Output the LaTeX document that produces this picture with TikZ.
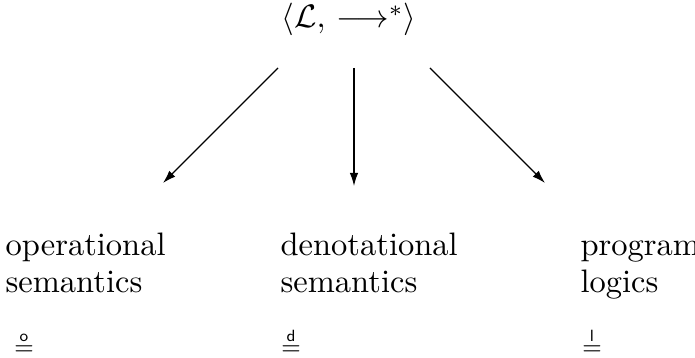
\documentclass[tikz,border=0pt]{standalone}
\usepackage{amsmath, amssymb}
\usetikzlibrary{arrows.meta}
\begin{document}
\begin{tikzpicture}[x=0.3077pt, y=-0.3077pt,
    every node/.style={inner sep=0pt},
    area/.style={anchor=base west, align=left, font=\fontsize{10}{11.4}\selectfont},
    eqsign/.style={anchor=base, font=\scriptsize},
    arr/.style={-{Latex[length=4pt, width=2.6pt]}, line width=0.4pt}]
    \useasboundingbox (0,0) rectangle (695,358);
    \node[anchor=base] (lts) at (349,28) {$\langle\mathcal{L},\,\longrightarrow^*\rangle$};
    \node[area] (ops) at (5,293) {operational\\semantics};
    \node[area] (den) at (280,293) {denotational\\semantics};
    \node[area] (prog) at (580,293) {program\\logics};
    \node[eqsign] (eqo) at (24,355) {$\stackrel{\mathsf{o}}{=}$};
    \node[eqsign] (eqd) at (291,355) {$\stackrel{\mathsf{d}}{=}$};
    \node[eqsign] (eql) at (592,355) {$\stackrel{\mathsf{l}}{=}$};
    % arrows
    \coordinate (s1) at (278,68);
    \coordinate (s2) at (354,68);
    \coordinate (s3) at (430,68);
    \coordinate (e1) at (163,183);
    \coordinate (e2) at (354,186);
    \coordinate (e3) at (545,183);
    \draw[arr] (s1) -- (e1);
    \draw[arr] (s2) -- (e2);
    \draw[arr] (s3) -- (e3);
\end{tikzpicture}
\end{document}
